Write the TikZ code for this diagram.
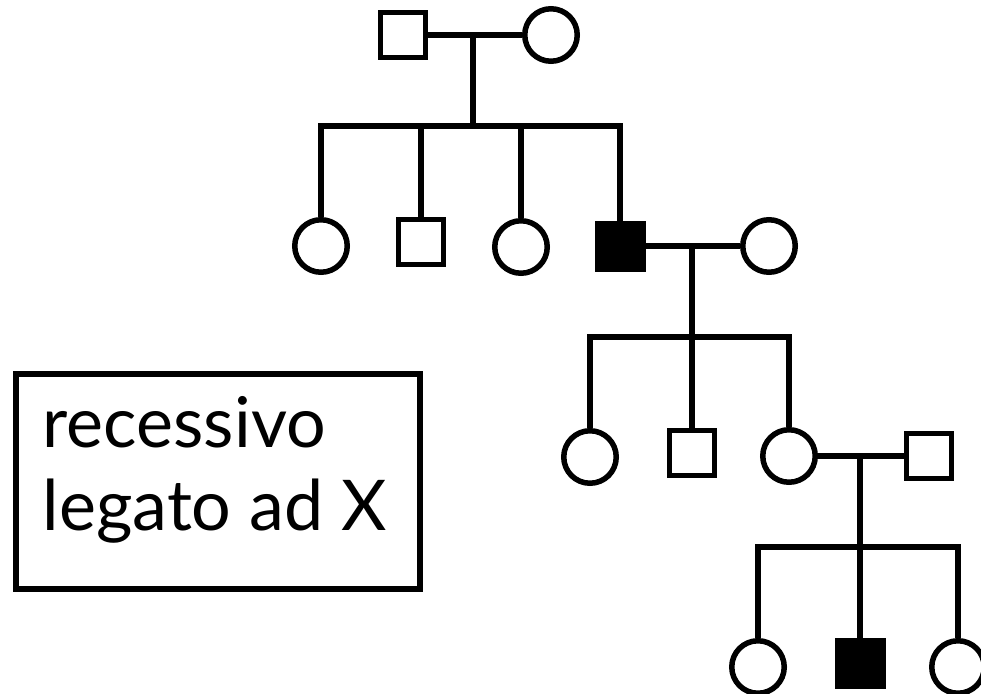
\documentclass[tikz,border=0pt]{standalone}
\usepackage{fontspec}
\setmainfont{Lato}
\begin{document}
\begin{tikzpicture}[x=1pt,y=-1pt,line width=5.5pt,
  male/.style={draw,rectangle,minimum size=45pt,inner sep=0pt},
  female/.style={draw,circle,minimum size=52.5pt,inner sep=0pt},
  affected/.style={male,fill=black,minimum size=45.5pt},
  legend/.style={draw,rectangle,minimum width=404pt,minimum height=215pt,inner sep=0pt},
  lbl/.style={anchor=base west,inner sep=0pt,font=\fontsize{70}{83}\selectfont},
  conn/.style={line cap=rect}]
\useasboundingbox (0,0) rectangle (981,693);
% generation 1
\node[male] (P1) at (403,35) {};
\node[female] (P2) at (551,35) {};
\coordinate (m1) at (473,35);
\coordinate (s1) at (473,126);
% generation 2
\node[female] (C1) at (321,246) {};
\node[male] (C2) at (421,242) {};
\node[female] (C3) at (521,247) {};
\node[affected] (C4) at (620,246) {};
\node[female] (C5) at (769,246) {};
\coordinate (m2) at (692,246);
\coordinate (s2) at (692,337);
% generation 3
\node[female] (G1) at (590,457) {};
\node[male] (G2) at (692,453) {};
\node[female] (G3) at (789,456) {};
\node[male] (G4) at (929,456) {};
\coordinate (m3) at (860,456);
\coordinate (s3) at (860,547);
% generation 4
\node[female] (H1) at (758,667) {};
\node[affected] (H2) at (860,663) {};
\node[female] (H3) at (958,667) {};
% legend
\node[legend] (box) at (218,481.5) {};
\node[lbl] (t1) at (40,447) {recessivo};
\node[lbl] (t2) at (40,530) {legato ad X};
% connectors gen1
\draw (P1) -- (P2);
\draw[conn] (m1) -- (s1);
\draw[conn] (C1 |- s1) -- (C4 |- s1);
\foreach \n in {C1,C2,C3,C4} \draw (\n |- s1) -- (\n);
% gen2
\draw (C4) -- (C5);
\draw[conn] (m2) -- (s2);
\draw[conn] (G1 |- s2) -- (G3 |- s2);
\foreach \n in {G1,G2,G3} \draw (\n |- s2) -- (\n);
% gen3
\draw (G3) -- (G4);
\draw[conn] (m3) -- (s3);
\draw[conn] (H1 |- s3) -- (H3 |- s3);
\foreach \n in {H1,H2,H3} \draw (\n |- s3) -- (\n);
\end{tikzpicture}
\end{document}
